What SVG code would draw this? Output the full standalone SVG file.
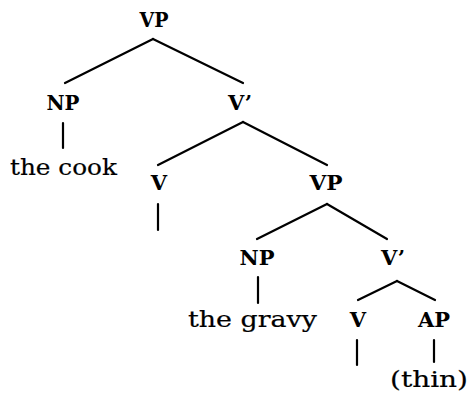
<svg xmlns="http://www.w3.org/2000/svg" width="469" height="396" viewBox="0 0 469 396">
<style>
.lab{font-family:"DejaVu Serif","Liberation Serif",serif;font-weight:bold;font-size:21px;text-anchor:middle;fill:#000}
.word{font-family:"DejaVu Serif","Liberation Serif",serif;font-size:23px;fill:#000;stroke:#000;stroke-width:0.2}
.edges line{stroke:#000;stroke-width:2.2;stroke-linecap:round}
</style>
<rect width="469" height="396" fill="#fff"/>
<g class="edges" id="connectors">
<line x1="153" y1="39" x2="65" y2="83"/>
<line x1="153" y1="39" x2="243" y2="83"/>
<line x1="63" y1="123" x2="63" y2="148"/>
<line x1="243" y1="122" x2="158" y2="165"/>
<line x1="243" y1="122" x2="327" y2="165"/>
<line x1="158" y1="204" x2="158" y2="230"/>
<line x1="327" y1="204" x2="257" y2="239"/>
<line x1="327" y1="204" x2="387" y2="239"/>
<line x1="258" y1="277" x2="258" y2="303"/>
<line x1="397" y1="281" x2="358" y2="300"/>
<line x1="397" y1="281" x2="435" y2="300"/>
<line x1="357" y1="340" x2="357" y2="365"/>
<line x1="434" y1="340" x2="434" y2="362"/>
</g>
<g id="vp1"><text class="lab" x="154" y="27" textLength="29" lengthAdjust="spacingAndGlyphs">VP</text></g>
<g id="np1"><text class="lab" x="63" y="110" textLength="33" lengthAdjust="spacingAndGlyphs">NP</text></g>
<g id="vbar1"><text class="lab" x="240" y="110">V’</text></g>
<g id="thecook"><text class="word" x="10" y="175" textLength="107" lengthAdjust="spacingAndGlyphs">the cook</text></g>
<g id="v1"><text class="lab" x="159" y="190">V</text></g>
<g id="vp2"><text class="lab" x="326" y="190" textLength="33" lengthAdjust="spacingAndGlyphs">VP</text></g>
<g id="np2"><text class="lab" x="257" y="265" textLength="35" lengthAdjust="spacingAndGlyphs">NP</text></g>
<g id="vbar2"><text class="lab" x="393" y="265">V’</text></g>
<g id="thegravy"><text class="word" x="188" y="327" textLength="129" lengthAdjust="spacingAndGlyphs">the gravy</text></g>
<g id="v2"><text class="lab" x="358" y="327">V</text></g>
<g id="ap"><text class="lab" x="434" y="327" textLength="32" lengthAdjust="spacingAndGlyphs">AP</text></g>
<g id="thin"><text class="word" x="390" y="387" textLength="78" lengthAdjust="spacingAndGlyphs">(thin)</text></g>
</svg>
